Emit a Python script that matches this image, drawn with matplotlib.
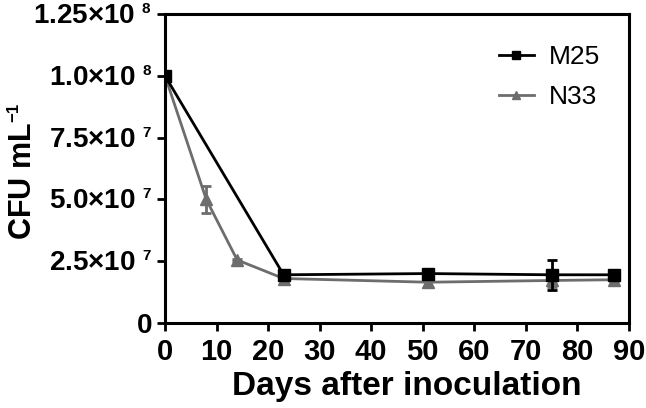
import numpy as np
import matplotlib
matplotlib.use('Agg')
import matplotlib.pyplot as plt
from matplotlib import _mathtext

# smaller superscripts, like the exponents in the original figure
_mathtext.SHRINK_FACTOR = 0.55

plt.rcParams['font.family'] = ['Liberation Sans', 'DejaVu Sans']
plt.rcParams['mathtext.fontset'] = 'custom'
plt.rcParams['mathtext.rm'] = 'Liberation Sans:bold'
plt.rcParams['mathtext.bf'] = 'Liberation Sans:bold'
plt.rcParams['mathtext.it'] = 'Liberation Sans:bold'

# data
days_m25 = [0, 23, 51, 75, 87]
cfu_m25 = [1.0e8, 1.95e7, 2.0e7, 1.95e7, 1.95e7]
err_m25 = [0, 0.05e7, 0.1e7, 0.6e7, 0.05e7]

days_n33 = [0, 8, 14, 23, 51, 75, 87]
cfu_n33 = [1.0e8, 5.0e7, 2.55e7, 1.8e7, 1.65e7, 1.72e7, 1.75e7]
err_n33 = [0, 0.53e7, 0.05e7, 0.05e7, 0.18e7, 0.25e7, 0.05e7]

yticks = [0, 2.5e7, 5.0e7, 7.5e7, 1.0e8, 1.25e8]
ytick_labels = ['0', '2.5×10 $^{7}$', '5.0×10 $^{7}$', '7.5×10 $^{7}$',
                '1.0×10 $^{8}$', '1.25×10 $^{8}$']
xticks = np.arange(0, 91, 10)

black = 'black'
grey = '#6d6d6d'

fig = plt.figure(figsize=(6.46, 4.08), dpi=100)
ax = fig.add_axes([165/646, 1-323/408, (629-165)/646, (323-14)/408])

ax.errorbar(days_m25, cfu_m25, yerr=err_m25, fmt='none', ecolor=black,
            capsize=3.5, capthick=2, elinewidth=2, zorder=3)
ax.plot(days_m25, cfu_m25, color=black, lw=2, marker='s', ms=8, label='M25', zorder=4)
ax.errorbar(days_n33, cfu_n33, yerr=err_n33, fmt='none', ecolor=grey,
            capsize=3.5, capthick=2, elinewidth=2, zorder=1)
ax.plot(days_n33, cfu_n33, color=grey, lw=2, marker='^', ms=8, label='N33', zorder=2)

ax.set_xlim(0, 90)
ax.set_ylim(0, 1.25e8)
ax.set_xticks(xticks)
ax.set_xticklabels([str(x) for x in xticks], fontsize=21, fontweight='bold')
ax.set_yticks(yticks)
ax.set_yticklabels(ytick_labels, fontsize=20, fontweight='bold')
ax.tick_params(width=2, length=6, direction='out')
ax.tick_params(axis='x', pad=4.5)
ax.tick_params(axis='y', pad=3)
for s in ax.spines.values():
    s.set_linewidth(2.2)

ax.set_xlabel('Days after inoculation', fontsize=24, fontweight='bold')
ax.set_ylabel('CFU mL$^{-1}$', fontsize=22, fontweight='bold')
ax.xaxis.set_label_coords(0.522, -0.155)
ax.yaxis.set_label_coords(-0.274, 0.49)

leg = ax.legend(loc='upper right', frameon=False, fontsize=19, handlelength=1.3,
                markerscale=0.7, handletextpad=0.6, labelspacing=0.6,
                bbox_to_anchor=(0.99, 0.975))

fig.savefig('out.png', dpi=100)
